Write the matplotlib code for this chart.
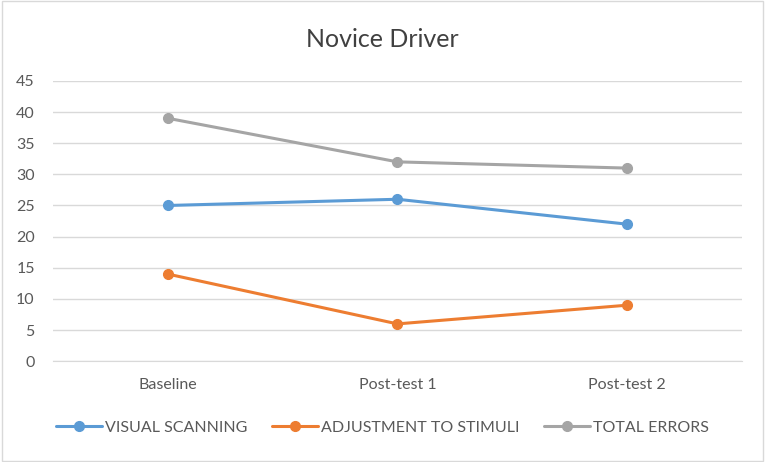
import matplotlib
matplotlib.use("Agg")
import matplotlib.pyplot as plt
from matplotlib.patches import Rectangle

plt.rcParams["font.family"] = ["Lato", "DejaVu Sans"]

categories = ["Baseline", "Post-test 1", "Post-test 2"]
visual_scanning = [25, 26, 22]
adjustment = [14, 6, 9]
total_errors = [39, 32, 31]
yticks = list(range(0, 50, 5))

BLUE, ORANGE, GREY = "#5B9BD5", "#ED7D31", "#A5A5A5"
TXT = "#595959"

fig = plt.figure(figsize=(7.65, 4.62), dpi=100)
fig.patch.set_facecolor("white")
fig.patches.append(Rectangle((0.003, 0.003), 0.994, 0.994, transform=fig.transFigure,
                             fill=False, ec="#D9D9D9", lw=1))

ax = fig.add_axes([0.069, 0.218, 0.901, 0.607])
x = list(range(len(categories)))
for vals, c, lab in [(visual_scanning, BLUE, "VISUAL SCANNING"),
                     (adjustment, ORANGE, "ADJUSTMENT TO STIMULI"),
                     (total_errors, GREY, "TOTAL ERRORS")]:
    ax.plot(x, vals, color=c, lw=2.2, marker="o", ms=7, label=lab, solid_capstyle="round")

ax.set_xlim(-0.5, 2.5)
ax.set_ylim(0, 45)
ax.set_yticks(yticks)
ax.set_xticks(x)
ax.set_xticklabels(categories)
ax.grid(axis="y", color="#D9D9D9", lw=1)
ax.set_axisbelow(True)
for s in ["top", "right", "left"]:
    ax.spines[s].set_visible(False)
ax.spines["bottom"].set_color("#D9D9D9")
ax.tick_params(length=0, labelsize=11.5, colors=TXT)
ax.tick_params(axis="x", pad=12)
ax.tick_params(axis="y", pad=13)

fig.text(0.5, 0.915, "Novice Driver", ha="center", va="center", fontsize=18, color="#404040")

fig.legend(loc="center", bbox_to_anchor=(0.5, 0.074), ncol=3, frameon=False,
           fontsize=11.5, labelcolor=TXT, handlelength=2.9, handletextpad=0.2, columnspacing=1.5)

fig.savefig("out.png", dpi=100, facecolor="white")
